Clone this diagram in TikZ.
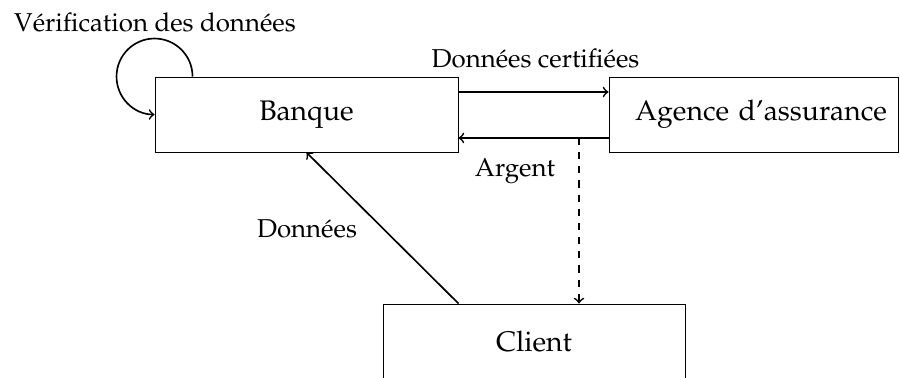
\documentclass[tikz,border=0pt]{standalone}
\usepackage[T1]{fontenc}
\usepackage{mathpazo}
% one drawing unit
\newcommand\pxlen{0.4237pt}
\begin{document}
\begin{tikzpicture}[x=\pxlen, y=-\pxlen,
  line width=0.4pt,
  box/.style={draw, minimum height=75*\pxlen, inner sep=0pt,
              font=\fontsize{12}{14}\selectfont},
  lbl/.style={font=\fontsize{10.95}{13}\selectfont, inner sep=0pt, anchor=base},
  flow/.style={->, line width=0.7pt}]
\useasboundingbox (0,0) rectangle (900,378);

% actors
\node[box, minimum width=303*\pxlen] (banque) at (306.5,114.5) {Banque};
\node[box, text width=267*\pxlen, inner xsep=11*\pxlen, align=right]
  (agence) at (753.5,114.5) {Agence d'assurance};
\node[box, minimum width=302*\pxlen] (client) at (534,341.5) {Client};

% self check of the bank: three quarters of a circle round its corner
\draw[flow] ([xshift=38*\pxlen]banque.north west)
  arc[start angle=0, end angle=270, radius=38*\pxlen] coordinate (loopend);
\node[lbl] (verif) at (155,32) {V\'erification des donn\'ees};

% exchanges between bank and insurer
\draw[flow] ([yshift=22.5*\pxlen]banque.east) -- ([yshift=22.5*\pxlen]agence.west);
\draw[flow] ([yshift=-23.5*\pxlen]agence.west) -- ([yshift=-23.5*\pxlen]banque.east);
\node[lbl] (certif) at (535.5,67.5) {Donn\'ees certifi\'ees};
\node[lbl] (argent) at (515,177) {Argent};

% money passed on to the client
\coordinate (drop) at (579,138);
\draw[flow, dashed] (drop) -- (drop |- client.north);

% client data sent to the bank
\draw[flow] (client.north -| banque.east) -- (banque.south);
\node[lbl] (donnees) at (307,238) {Donn\'ees};
\end{tikzpicture}
\end{document}
